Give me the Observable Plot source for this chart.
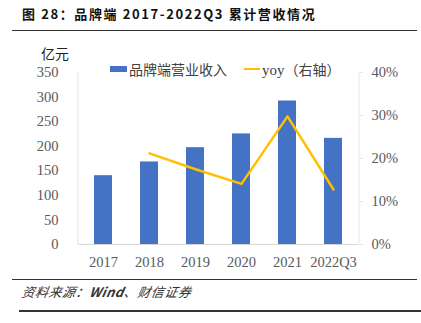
<!DOCTYPE html>
<html><head><meta charset="utf-8">
<script src="https://cdn.jsdelivr.net/npm/d3@7"></script>
<script src="https://cdn.jsdelivr.net/npm/@observablehq/plot@0.6"></script>
<style>
html,body{margin:0;padding:0;background:#fff;width:421px;height:323px;overflow:hidden;}
#wrap{position:relative;width:421px;height:323px;}
.abs{position:absolute;white-space:nowrap;}
#chart{position:absolute;left:0;top:0;}
</style></head>
<body><div id="wrap">
<div class="abs" style="left:22px;top:5px;font-family:'Noto Sans CJK SC';font-weight:700;font-size:13px;letter-spacing:1.6px;color:#111;line-height:18px;">图 28：品牌端 2017-2022Q3 累计营收情况</div>
<div class="abs" style="left:12px;top:29.5px;width:405px;height:1.5px;background:#333;"></div>
<div class="abs" style="left:41px;top:44px;font-family:'Noto Sans CJK SC';font-size:14px;color:#222;line-height:18px;">亿元</div>
<div id="chart"></div>
<div class="abs" style="left:110px;top:66px;width:17px;height:6px;background:#4472C4;"></div>
<div class="abs" style="left:129px;top:60px;font-family:'Noto Sans CJK SC';font-size:14px;color:#404040;line-height:18px;">品牌端营业收入</div>
<div class="abs" style="left:244px;top:68px;width:16px;height:2px;background:#FFC000;"></div>
<div class="abs" style="left:262px;top:60px;font-family:'Noto Sans CJK SC';font-size:14px;color:#404040;line-height:18px;"><span style="font-family:'Liberation Serif';font-size:15px;">yoy</span>（右轴）</div>
<div class="abs" style="left:12px;top:279px;width:405px;height:1.3px;background:#333;"></div>
<div class="abs" style="left:22px;top:283px;font-family:'Noto Sans CJK SC';font-style:italic;font-size:13px;letter-spacing:0.5px;color:#333;line-height:18px;transform:skewX(-10deg);">资料来源：<b>Wind</b>、财信证券</div>
<div class="abs" style="left:19px;top:310px;width:402px;height:1.5px;background:#333;"></div>
</div>
<script>
const years = ["2017","2018","2019","2020","2021","2022Q3"];
const revenue = [140, 168, 197, 225, 292, 216];
const yoy = [null, 21.2, 17.5, 14.1, 29.8, 12.8];
const leftTicks = [0,50,100,150,200,250,300,350];
const rightTicks = [0,10,20,30,40];
const yMax = 350, pctMax = 40;
const k = yMax / pctMax;

const bars = years.map((c,i)=>({cat:c, v:revenue[i]}));
const line = years.map((c,i)=>({cat:c, p:yoy[i]})).filter(d=>d.p!=null);

const fontSerif = "'Liberation Serif', serif";
const chart = Plot.plot({
  width: 421, height: 323,
  marginTop: 72, marginBottom: 79, marginLeft: 78, marginRight: 62,
  style: {fontFamily: fontSerif, fontSize: "14.5px", color: "#595959", background: "transparent"},
  x: {domain: years, type: "band", paddingInner: 0.6, paddingOuter: 0.3, label: null},
  y: {domain: [0, yMax], label: null},
  marks: [
    Plot.barY(bars, {x: "cat", y: "v", fill: "#4472C4"}),
    Plot.ruleY([0], {stroke: "#d9d9d9", strokeWidth: 1}),
    Plot.lineY(line, {x: "cat", y: d => d.p * k, stroke: "#FFC000", strokeWidth: 2.5}),
    Plot.axisY(leftTicks, {anchor: "left", tickSize: 0, tickPadding: 20, label: null, fill: "#595959"}),
    Plot.axisY(rightTicks.map(t => t * k), {anchor: "right", tickSize: 3, tickPadding: 9, stroke: "#e6e6e6", label: null, fill: "#595959", tickFormat: (d) => Math.round(d / k) + "%"}),
    Plot.axisX({tickSize: 0, tickPadding: 12, label: null, fill: "#595959"})
  ]
});
const svg = d3.select(chart);
const x0 = 78, x1 = 421 - 62, yTop = 72, yBot = 323 - 79;
svg.append("line").attr("x1", x0).attr("x2", x0).attr("y1", yTop).attr("y2", yBot).attr("stroke", "#e3e3e3");
svg.append("line").attr("x1", x1).attr("x2", x1).attr("y1", yTop).attr("y2", yBot).attr("stroke", "#e8e8e8");
document.getElementById("chart").appendChild(chart);
</script>
</body></html>
